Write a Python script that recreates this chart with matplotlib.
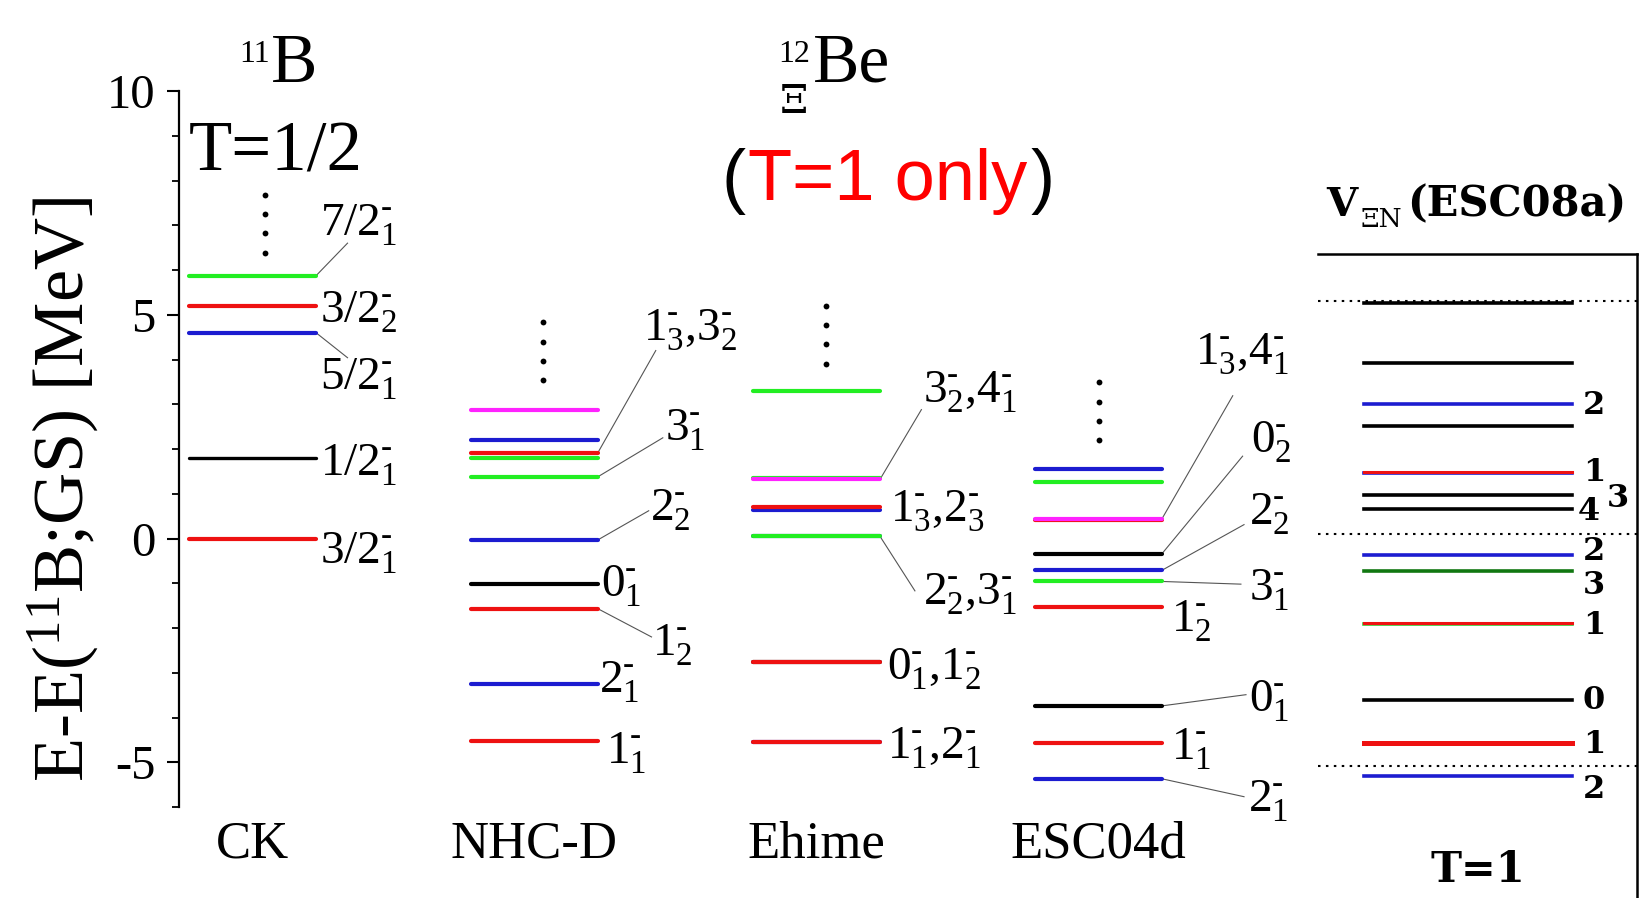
import matplotlib
matplotlib.use('Agg')
import matplotlib.pyplot as plt
from matplotlib.ticker import MultipleLocator, FixedLocator

plt.rcParams['font.family'] = ['Liberation Serif', 'DejaVu Serif']
plt.rcParams['mathtext.fontset'] = 'custom'
plt.rcParams['mathtext.rm'] = 'Liberation Serif'
plt.rcParams['mathtext.it'] = 'Liberation Serif:italic'
plt.rcParams['mathtext.bf'] = 'Liberation Serif:bold'
plt.rcParams['axes.unicode_minus'] = False

# ---------------- data ----------------
models = ['CK', 'NHC-D', 'Ehime', 'ESC04d']

# 11B (CK): excitation energies [MeV] and spins
ck_E = [0.00, 1.81, 4.60, 5.19, 5.87]
ck_J = ['3/2', '1/2', '5/2', '3/2', '7/2']
ck_tags = ['3/2_1', '1/2_1', '5/2_1', '3/2_2', '7/2_1']
ck_tag_level = [0, 1, 2, 3, 4]

# 12Be(Xi), T=1 : NHC-D
nhcd_E = [-4.53, -3.26, -1.57, -1.01, -0.03, 1.38, 1.79, 1.92, 2.20, 2.87]
nhcd_J = [1, 2, 1, 0, 2, 3, 3, 1, 2, 4]
nhcd_tags = ['1_1', '2_1', '1_2', '0_1', '2_2', '3_1', '1_3,3_2']
nhcd_tag_level = [0, 1, 2, 3, 4, 5, 7]

# Ehime
ehime_E = [-4.55, -4.55, -2.75, -2.75, 0.05, 0.05, 0.63, 0.70, 1.36, 1.32, 3.29]
ehime_J = [2, 1, 0, 1, 2, 3, 2, 1, 3, 4, 3]
ehime_tags = ['1_1,2_1', '0_1,1_2', '2_2,3_1', '1_3,2_3', '3_2,4_1']
ehime_tag_level = [1, 3, 5, 7, 9]

# ESC04d
esc04d_E = [-5.37, -4.57, -3.74, -1.54, -0.96, -0.71, -0.34, 0.41, 0.44, 1.26, 1.55]
esc04d_J = [2, 1, 0, 1, 3, 2, 0, 1, 4, 3, 2]
esc04d_tags = ['2_1', '1_1', '0_1', '1_2', '3_1', '2_2', '0_2', '1_3,4_1']
esc04d_tag_level = [0, 1, 2, 3, 4, 5, 6, 8]

# V_XiN (ESC08a), T=1 panel (its own energy scale)
esc08a_E = [-5.21, -4.50, -3.58, -1.93, -1.91, -0.80, -0.45, 0.53, 0.83,
            1.32, 1.34, 2.33, 2.79, 3.67, 4.97]
esc08a_tags = ['2', '1', '0', '', '1', '3', '2', '4', '3', '', '1', '', '2', '', '']
esc08a_ref = [-5, 0, 5]

# ---------------- styles / layout ----------------
J_COLORS = ['black', '#ee1111', '#1c1cd0', '#22ee22', '#ff22ff']
ESC08A_COLORS = ['#1c1cd0', '#ee1111', 'black', '#33cc33', '#ee1111', '#117711',
                 '#1c1cd0', 'black', 'black', '#1c1cd0', '#ee1111', 'black',
                 '#1c1cd0', 'black', 'black']
ESC08A_LW = [2.6, 3.6, 2.6, 2.6, 2.2, 2.6, 2.6, 2.6, 2.6, 2.6, 2.2, 2.6, 2.6, 2.6, 2.6]

HW = 0.225  # half width of a level bar (x units)

ck_tag_pos = [(0.016, -0.19, None), (0.016, 1.76, None), (0.016, 3.68, (0.112, 4.04)),
              (0.016, 5.19, None), (0.016, 7.13, (0.112, 6.60))]
nhcd_tag_pos = [(0.030, -4.66, None), (0.005, -3.08, None), (0.193, -2.25, (0.19, -2.20)),
                (0.011, -0.94, None), (0.183, 0.77, (0.18, 0.62)),
                (0.236, 2.56, (0.23, 2.25)), (0.158, 4.78, (0.205, 4.20))]
ehime_tag_pos = [(0.024, -4.55, None), (0.024, -2.79, None), (0.151, -1.11, (0.124, -1.17)),
                 (0.035, 0.73, None), (0.151, 3.41, (0.147, 2.88))]
esc04d_tag_pos = [(0.305, -5.73, (0.291, -5.77)), (0.032, -4.57, None),
                  (0.309, -3.51, (0.298, -3.49)), (0.032, -1.71, None),
                  (0.309, -1.02, (0.280, -1.02)), (0.309, 0.68, (0.291, 0.31)),
                  (0.316, 2.28, (0.286, 1.84)), (0.117, 4.25, (0.251, 3.19))]
esc08a_tag_pos = {0: (0.83, -5.50), 1: (0.83, -4.52), 2: (0.83, -3.58), 4: (0.83, -1.97),
                  5: (0.83, -1.12), 6: (0.83, -0.38), 7: (0.815, 0.49), 8: (0.905, 0.76),
                  10: (0.83, 1.32), 12: (0.83, 2.76)}

dots_x_off = [0.044, 0.030, 0.032, 0.0]
dots_y = [[7.68, 7.25, 6.82, 6.38], [4.83, 4.38, 3.97, 3.54],
          [5.20, 4.78, 4.35, 3.90], [3.50, 3.06, 2.62, 2.19]]

BOLD = dict(family='DejaVu Serif', weight='bold')


def jcolor(j):
    if isinstance(j, str):
        num = int(j.split('/')[0])
        return J_COLORS[num // 2]
    return J_COLORS[j]


def tex(tag):
    parts = []
    for p in tag.split(','):
        a, b = p.split('_')
        parts.append(a + r'^{\text{-}}_{' + b + '}')
    return '$' + '{,}'.join(parts) + '$'


W, H = 1648, 898
fig = plt.figure(figsize=(W / 100, H / 100), dpi=100)
ax = fig.add_axes([179 / W, 1 - 807 / H, (1296 - 179) / W, (807 - 91) / H])
ax.set_xlim(-0.2606, 3.7003)
ax.set_ylim(-6, 10)

columns = [(ck_E, ck_J, ck_tags, ck_tag_level, ck_tag_pos),
           (nhcd_E, nhcd_J, nhcd_tags, nhcd_tag_level, nhcd_tag_pos),
           (ehime_E, ehime_J, ehime_tags, ehime_tag_level, ehime_tag_pos),
           (esc04d_E, esc04d_J, esc04d_tags, esc04d_tag_level, esc04d_tag_pos)]

LAB_FS = 34
BASE_OFF = 0.36
for i, (E, J, tags, tlev, tpos) in enumerate(columns):
    for e, j in zip(E, J):
        lw = 2.4 if (i == 0 and jcolor(j) == 'black') else 3.0
        ax.plot([i - HW, i + HW], [e, e], color=jcolor(j), lw=lw,
                solid_capstyle='round', zorder=3)
    for tag, li, (xo, yc, lead) in zip(tags, tlev, tpos):
        xe = i + HW
        ax.text(xe + xo, yc - BASE_OFF, tex(tag), fontsize=LAB_FS,
                ha='left', va='baseline', clip_on=False)
        if lead is not None:
            ax.plot([xe, xe + lead[0]], [E[li], lead[1]], color='#555555',
                    lw=0.8, zorder=2, clip_on=False)
    ax.plot([i + dots_x_off[i]] * len(dots_y[i]), dots_y[i], 'o', color='black',
            ms=4.2, mew=0, zorder=3)

for s in ['top', 'right', 'bottom']:
    ax.spines[s].set_visible(False)
ax.spines['left'].set_linewidth(1.6)
ax.yaxis.set_major_locator(FixedLocator([-5, 0, 5, 10]))
ax.yaxis.set_minor_locator(MultipleLocator(1))
ax.tick_params(axis='y', which='major', direction='out', length=9, width=1.5,
               labelsize=35, pad=8)
ax.tick_params(axis='y', which='minor', direction='out', length=5, width=1.3)
ax.set_xticks(range(len(models)))
ax.set_xticklabels(models)
ax.tick_params(axis='x', length=0, labelsize=38, pad=10)

fig.text(63 / W, 1 - 489 / H, r'E-E($^{11}$B;GS) [MeV]', rotation=90,
         ha='center', va='center', fontsize=52)

# titles
fig.text(271 / W, 1 - 82 / H, 'B', fontsize=50, ha='left', va='baseline')
fig.text(270 / W, 1 - 62 / H, '11', fontsize=23, ha='right', va='baseline')
fig.text(189 / W, 1 - 170 / H, 'T=1/2', fontsize=51, ha='left', va='baseline')
fig.text(813 / W, 1 - 82 / H, 'Be', fontsize=50, ha='left', va='baseline')
fig.text(810 / W, 1 - 62 / H, '12', fontsize=23, ha='right', va='baseline')
fig.text(794 / W, 1 - 113 / H, 'Ξ', fontsize=29, ha='center', va='baseline',
         family='DejaVu Serif')

r = fig.canvas.get_renderer()
yb = 1 - 200 / H
t1 = fig.text(721 / W, yb, '(', fontsize=52, family='Liberation Sans', color='black', va='baseline')
bb = t1.get_window_extent(r)
t2 = fig.text(bb.x1 / W + 0.002, yb, 'T=1 only', fontsize=52, family='Liberation Sans',
              color='#ff0000', va='baseline')
bb2 = t2.get_window_extent(r)
fig.text(bb2.x1 / W + 0.002, yb, ')', fontsize=52, family='Liberation Sans',
         color='black', va='baseline')

# right panel
ax2 = fig.add_axes([1318 / W, 0, (1637 - 1318) / W, (898 - 254) / H])
ax2.set_xlim(0, 1)
ax2.set_ylim(-7.83, 6.02)
for s in ['left', 'bottom']:
    ax2.spines[s].set_visible(False)
for s in ['top', 'right']:
    ax2.spines[s].set_linewidth(1.8)
ax2.set_yticks(esc08a_ref)
ax2.set_xticks([])
ax2.tick_params(axis='y', length=0, labelleft=False)
ax2.grid(axis='y', color='black', ls=(0, (1.2, 2.6)), lw=1.5)
for k, (e, c, lw) in enumerate(zip(esc08a_E, ESC08A_COLORS, ESC08A_LW)):
    ax2.plot([0.145, 0.795], [e, e], color=c, lw=lw, zorder=3)
for k, tag in enumerate(esc08a_tags):
    if tag:
        x, y = esc08a_tag_pos[k]
        ax2.text(x, y, tag, fontsize=23, ha='left', va='center', clip_on=False, **BOLD)
ax2.text(0.50, -7.22, 'T=1', fontsize=30, ha='center', va='center', **BOLD)

# V_XiN(ESC08a) title
tv = fig.text(1326 / W, 1 - 216 / H, 'V', fontsize=29, ha='left', va='baseline', **BOLD)
bv = tv.get_window_extent(r)
ts = fig.text(bv.x1 / W + 0.002, 1 - 227 / H, 'ΞN', fontsize=19, ha='left',
              va='baseline', family='DejaVu Serif')
bs = ts.get_window_extent(r)
fig.text(bs.x1 / W + 0.003, 1 - 216 / H, '(ESC08a)', fontsize=30, ha='left',
         va='baseline', **BOLD)

fig.savefig('out.png', dpi=100)
